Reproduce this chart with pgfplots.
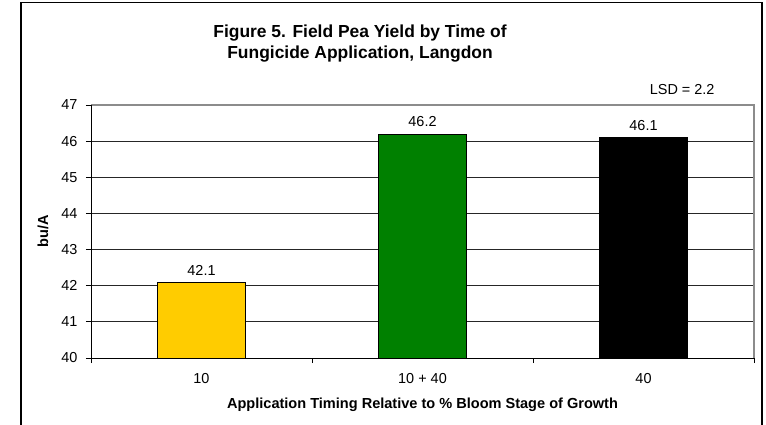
\documentclass[border=0pt]{standalone}
\usepackage{fontspec}
\setmainfont{Liberation Sans}
\usepackage{pgfplots}
\pgfplotsset{compat=1.18}
\definecolor{barY}{HTML}{FFCC00}
\definecolor{barG}{HTML}{008000}
\begin{document}
\begin{tikzpicture}
\useasboundingbox (0,0) rectangle (766bp,-425bp);
\begin{scope}
\clip (0,0) rectangle (766bp,-425bp);
\fill[white] (0,0) rectangle (766bp,-425bp);
\draw[line width=1.5bp] (21bp,-2.5bp) rectangle (762bp,-440bp);
\end{scope}
\node[anchor=base, font=\bfseries\fontsize{17.5}{21}\selectfont] at (360bp,-37bp) {Figure 5. Field Pea Yield by Time of};
\node[anchor=base, font=\bfseries\fontsize{17.5}{21}\selectfont] at (360bp,-58bp) {Fungicide Application, Langdon};
\node[anchor=base east, font=\fontsize{14.5}{17}\selectfont] at (718bp,-94bp) {LSD = 2.2};
\begin{axis}[
  at={(91bp,-358bp)}, anchor=south west,
  scale only axis, width=663bp, height=253bp,
  xmin=-0.5, xmax=2.5, ymin=40, ymax=47,
  ytick={40,41,...,47},
  xtick={-0.5,0.5,1.5,2.5}, xticklabels={,,,},
  extra x ticks={0,1,2}, extra x tick labels={10,{10 + 40},40},
  extra x tick style={major tick length=0pt},
  xtick pos=bottom, ytick pos=left,
  tick align=outside, major tick length=5bp,
  tick style={black, line width=0.8bp},
  ymajorgrids, grid style={black!85, line width=0.8bp},
  axis line style={draw=none},
  /pgf/number format/assume math mode=true,
  ticklabel style={font=\fontsize{14.5}{17}\selectfont},
  xticklabel style={yshift=-12bp},
  yticklabel style={xshift=-5bp},
  xlabel={Application Timing Relative to \%  Bloom Stage of Growth},
  ylabel={bu/A},
  label style={font=\bfseries\fontsize{14.6}{17}\selectfont},
  xlabel style={at={(axis description cs:0.5,0)}, anchor=center, yshift=-47bp},
  ylabel style={at={(axis description cs:0,0.5)}, anchor=center, yshift=48bp},
  ybar, bar width=88bp, bar shift=0pt,
  nodes near coords,
  every node near coord/.append style={font=\fontsize{14.5}{17}\selectfont, anchor=base, yshift=7bp},
  clip=false,
]
\addplot[fill=barY, draw=black, line width=0.8bp] coordinates {(0,42.1)};
\addplot[fill=barG, draw=black, line width=0.8bp] coordinates {(1,46.2)};
\addplot[fill=black, draw=black, line width=0.8bp] coordinates {(2,46.1)};
\draw[black!45, line width=1.2bp] (rel axis cs:0,1) -- (rel axis cs:1,1) -- (rel axis cs:1,0);
\draw[black, line width=1bp] (rel axis cs:0,1) -- (rel axis cs:0,0) -- (rel axis cs:1,0);
\end{axis}
\end{tikzpicture}
\end{document}
